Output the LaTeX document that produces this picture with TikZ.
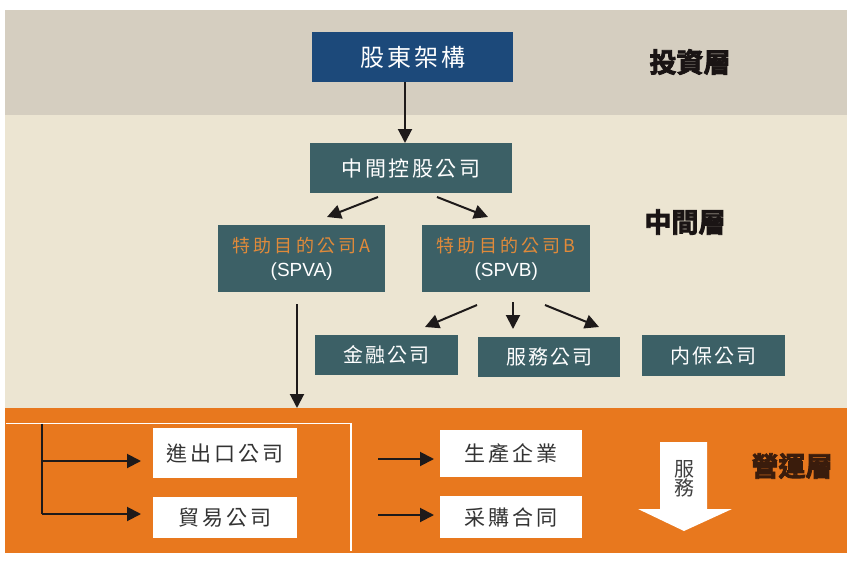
\documentclass[tikz,border=0pt]{standalone}
\usepackage{fontspec}
\newfontfamily\cjk{Noto Sans CJK TC}
\newfontfamily\cjkb[FakeBold=3]{Noto Sans CJK TC Bold}
\newfontfamily\latn{Liberation Sans}
\usetikzlibrary{arrows.meta}
\definecolor{topband}{HTML}{D5CEC0}
\definecolor{midband}{HTML}{ECE5D2}
\definecolor{orangeband}{HTML}{E8781E}
\definecolor{bluebox}{HTML}{1C497A}
\definecolor{tealbox}{HTML}{3C6066}
\definecolor{spvtext}{HTML}{E08A3A}
\definecolor{arrowc}{HTML}{1E1A1A}
\definecolor{layertxt}{HTML}{1A1414}
\definecolor{optxt}{HTML}{3A1C0C}
\begin{document}
\begin{tikzpicture}[x=1pt,y=-1pt,
  boxbase/.style={inner sep=0pt,anchor=north west},
  darkbox/.style={boxbase,fill=tealbox,text=white,font=\cjk\fontsize{20}{22}\selectfont\addfontfeatures{LetterSpace=10}},
  whitebox/.style={boxbase,fill=white,text=black!80,font=\cjk\fontsize{21}{23}\selectfont\addfontfeatures{LetterSpace=15}},
  layer/.style={font=\cjkb\fontsize{27}{29}\selectfont,text=layertxt},
  arr/.style={draw=arrowc,line width=2pt,-{Triangle[length=14pt,width=14pt]}}]
\useasboundingbox (0,0) rectangle (847,563);
\fill[white] (0,0) rectangle (847,563);
\fill[topband] (5,10) rectangle (847,115);
\fill[midband] (5,115) rectangle (847,408);
\fill[orangeband] (5,408) rectangle (847,553);
% top layer
\node[boxbase,fill=bluebox,text=white,font=\cjk\fontsize{24}{26}\selectfont\addfontfeatures{LetterSpace=13},minimum width=201pt,minimum height=50pt] (gd) at (312,32) {股東架構};
\node[layer] (l1) at (690,62) {投資層};
% middle layer
\node[darkbox,font=\cjk\fontsize{21}{23}\selectfont\addfontfeatures{LetterSpace=12},minimum width=202pt,minimum height=50pt] (zj) at (310,143) {中間控股公司};
\node[layer] (l2) at (685,222) {中間層};
\node[darkbox,minimum width=167pt,minimum height=67pt,align=center,font=\cjk\fontsize{18}{24}\selectfont] (spva) at (218,225) {\textcolor{spvtext}{\addfontfeatures{LetterSpace=18}特助目的公司A}\\{\latn\fontsize{19}{24}\selectfont (SPVA)}};
\node[darkbox,minimum width=168pt,minimum height=67pt,align=center,font=\cjk\fontsize{18}{24}\selectfont] (spvb) at (422,225) {\textcolor{spvtext}{\addfontfeatures{LetterSpace=18}特助目的公司B}\\{\latn\fontsize{19}{24}\selectfont (SPVB)}};
\node[darkbox,minimum width=143pt,minimum height=40pt] (jr) at (315,335) {金融公司};
\node[darkbox,minimum width=142pt,minimum height=40pt] (fw) at (478,337) {服務公司};
\node[darkbox,minimum width=143pt,minimum height=41pt] (nb) at (642,335) {内保公司};
% arrows
\coordinate (gdb) at (405,82);
\coordinate (zjt) at (405,143);
\draw[arr] (gdb) -- (zjt);
\coordinate (zja) at (378,197);
\coordinate (zjb) at (437,197);
\coordinate (spvat) at (327,217);
\coordinate (spvbt) at (488,217);
\draw[arr] (zja) -- (spvat);
\draw[arr] (zjb) -- (spvbt);
\coordinate (sa) at (297,304);
\coordinate (sae) at (297,408);
\draw[arr] (sa) -- (sae);
\coordinate (sb1) at (477,305);
\coordinate (sb2) at (513,302);
\coordinate (sb3) at (545,305);
\coordinate (jrt) at (425,327);
\coordinate (fwt) at (513,329);
\coordinate (nbt) at (599,327);
\draw[arr] (sb1) -- (jrt);
\draw[arr] (sb2) -- (fwt);
\draw[arr] (sb3) -- (nbt);
% operation layer
\draw[white,line width=1.6pt] (6,423.5) -- (351,423.5) -- (351,551);
\node[whitebox,minimum width=144pt,minimum height=50pt] (jck) at (153,428) {進出口公司};
\node[whitebox,minimum width=144pt,minimum height=41pt] (my) at (153,497) {貿易公司};
\node[whitebox,minimum width=142pt,minimum height=47pt] (sc) at (440,430) {生產企業};
\node[whitebox,minimum width=142pt,minimum height=42pt] (cg) at (440,496) {采購合同};
\coordinate (br) at (42,423.5);
\coordinate (brm) at (42,461);
\coordinate (brb) at (42,514);
\coordinate (jckl) at (141,461);
\coordinate (myl) at (141,514);
\draw[arrowc,line width=2pt] (br) -- (brb);
\draw[arr] (brm) -- (jckl);
\draw[arr] (brb) -- (myl);
\coordinate (a1) at (378,459);
\coordinate (a1e) at (434,459);
\coordinate (a2) at (378,515);
\coordinate (a2e) at (434,515);
\draw[arr] (a1) -- (a1e);
\draw[arr] (a2) -- (a2e);
\fill[white] (660,442) -- (707,442) -- (707,509) -- (732,509) -- (684,531) -- (638,509) -- (660,509) -- cycle;
\node[font=\cjk\fontsize{20}{19}\selectfont,align=center,text=black!75] (fwtxt) at (684,479) {服\\務};
\node[layer,text=optxt] (l3) at (792,466) {營運層};
\end{tikzpicture}
\end{document}
